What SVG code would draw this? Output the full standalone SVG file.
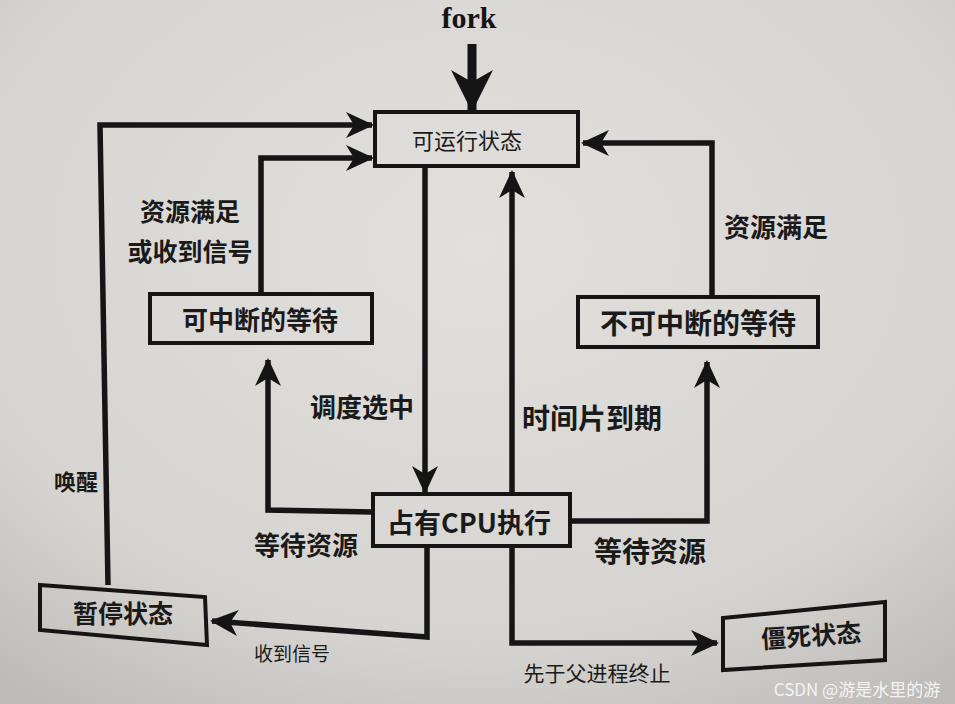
<svg xmlns="http://www.w3.org/2000/svg" width="955" height="704" viewBox="0 0 955 704">
<defs>
<radialGradient id="paper" cx="0.5" cy="0.35" r="0.8">
<stop offset="0" stop-color="#e2e0dd"/>
<stop offset="0.7" stop-color="#d6d4d1"/>
<stop offset="1" stop-color="#bdbab7"/>
</radialGradient>
<marker id="arr" markerUnits="userSpaceOnUse" markerWidth="30" markerHeight="26" refX="26" refY="13" orient="auto">
<path d="M0,0 L28,13 L0,26 L8,13 Z" fill="#151515"/>
</marker>
<marker id="big" markerUnits="userSpaceOnUse" markerWidth="44" markerHeight="44" refX="40" refY="21" orient="auto">
<path d="M0,0 L42,21 L0,42 L12,21 Z" fill="#151515"/>
</marker>
<style>
.box{fill:none;stroke:#151515;stroke-width:4;stroke-linejoin:miter}
.ln{fill:none;stroke:#151515;stroke-width:5.5;stroke-linejoin:miter;marker-end:url(#arr)}
.t{font-family:"Noto Sans CJK SC","Noto Sans",sans-serif;fill:#1a1a1a;text-anchor:middle;dominant-baseline:central}
.b{font-weight:bold}
</style>
</defs>
<rect width="955" height="704" fill="url(#paper)"/>
<text x="469" y="28" font-family="Liberation Serif,serif" font-weight="bold" font-size="30" fill="#151515" text-anchor="middle">fork</text>
<g id="connectors">
<line x1="472" y1="44" x2="472" y2="110" stroke="#151515" stroke-width="9" marker-end="url(#big)"/>
<polyline class="ln" points="108,585 100,125 372,125"/>
<polyline class="ln" points="261,294 261,158 372,158"/>
<polyline class="ln" points="712,297 712,143 583,143"/>
<polyline class="ln" points="425,166 425,492"/>
<polyline class="ln" points="512,494 512,172"/>
<polyline class="ln" points="373,512 268,510 268,360"/>
<polyline class="ln" points="570,521 707,521 707,362"/>
<polyline class="ln" points="427,546 427,637 212,621"/>
<polyline class="ln" points="512,546 512,643 717,643"/>
</g>
<g id="runnable">
<rect class="box" x="375" y="112" width="203" height="54"/>
<text class="t" x="467" y="139" font-size="22">可运行状态</text>
</g>
<g id="interruptible">
<rect class="box" x="150" y="294" width="222" height="49"/>
<text class="t b" x="260" y="318" font-size="26">可中断的等待</text>
</g>
<g id="uninterruptible">
<rect class="box" x="578" y="297" width="240" height="50"/>
<text class="t b" x="698" y="322" font-size="28">不可中断的等待</text>
</g>
<g id="running">
<rect class="box" x="373" y="494" width="197" height="52"/>
<text class="t b" x="469" y="521" font-size="27">占有CPU执行</text>
</g>
<g id="stopped">
<polygon class="box" points="40,585 205,597 207,645 40,630"/>
<text class="t b" x="123" y="612" font-size="25">暂停状态</text>
</g>
<g id="zombie">
<polygon class="box" points="723,618 885,602 885,660 723,670"/>
<text class="t b" x="811" y="634" font-size="25" transform="rotate(-4 811 634)">僵死状态</text>
</g>
<g id="labels">
<text class="t b" x="190" y="210" font-size="25">资源满足</text>
<text class="t b" x="190" y="250" font-size="25">或收到信号</text>
<text class="t b" x="776" y="225" font-size="26">资源满足</text>
<text class="t b" x="362" y="405" font-size="26">调度选中</text>
<text class="t b" x="592" y="417" font-size="28">时间片到期</text>
<text class="t b" x="306" y="543" font-size="26">等待资源</text>
<text class="t b" x="650" y="550" font-size="28">等待资源</text>
<text class="t b" x="76" y="480" font-size="22">唤醒</text>
<text class="t" x="292" y="652" font-size="19">收到信号</text>
<text class="t" x="597" y="672" font-size="21">先于父进程终止</text>
<text class="t" x="857" y="688" font-size="17" style="fill:#f4f4f4">CSDN @游是水里的游</text>
</g>
</svg>
